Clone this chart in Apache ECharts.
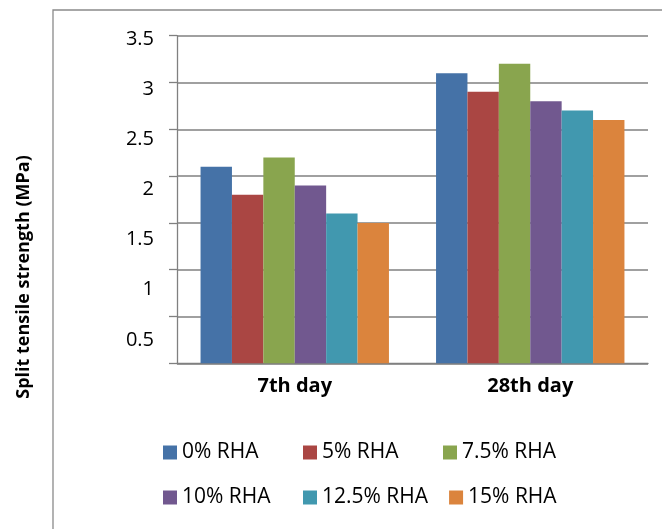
<!DOCTYPE html>
<html>
<head>
<meta charset="utf-8">
<script src="https://cdn.jsdelivr.net/npm/echarts@6/dist/echarts.min.js"></script>
<style>
html,body{margin:0;padding:0;background:#fff;}
#chart{width:662px;height:529px;}
</style>
</head>
<body>
<div id="chart"></div>
<script>
const categories = ['7th day', '28th day'];
const seriesNames = ['0% RHA', '5% RHA', '7.5% RHA', '10% RHA', '12.5% RHA', '15% RHA'];
const rha0 = [2.1, 3.1];
const rha5 = [1.8, 2.9];
const rha75 = [2.2, 3.2];
const rha10 = [1.9, 2.8];
const rha125 = [1.6, 2.7];
const rha15 = [1.5, 2.6];
const seriesValues = [rha0, rha5, rha75, rha10, rha125, rha15];
const colors = ['#4572A7', '#AA4643', '#89A54E', '#71588F', '#4198AF', '#DB843D'];
const yTicks = [0, 0.5, 1, 1.5, 2, 2.5, 3, 3.5];
const yTitle = 'Split tensile strength (MPa)';

const FONT = '"Open Sans", "Noto Sans", sans-serif';
const chart = echarts.init(document.getElementById('chart'), null, {renderer: 'canvas'});

const legendCommon = {
  itemWidth: 14, itemHeight: 14, itemGap: 21, icon: 'rect', padding: 0,
  textStyle: {fontFamily: FONT, fontSize: 21, color: '#000', width: 100, lineHeight: 21}
};

chart.setOption({
  animation: false,
  color: colors,
  graphic: [
    {type: 'rect', shape: {x: 53, y: 10, width: 700, height: 600},
     style: {fill: 'none', stroke: '#8a8a8a', lineWidth: 1.3}, silent: true, z: -1},
    {type: 'text', x: 24, y: 277, rotation: Math.PI / 2,
     style: {text: yTitle, fontFamily: FONT, fontSize: 18, fontWeight: 'bold', fill: '#000',
             textAlign: 'center', textVerticalAlign: 'middle'}}
  ],
  legend: [
    Object.assign({data: seriesNames.slice(0, 3), left: 163, top: 442}, legendCommon),
    Object.assign({data: seriesNames.slice(3, 6), left: 163, top: 487}, legendCommon)
  ],
  grid: [
    {left: 177, top: 35.7, right: 14, bottom: 529 - 363.3, containLabel: false},
    {left: 177, top: 39, right: 14, height: 351, containLabel: false}
  ],
  xAxis: [
    {type: 'category', data: categories, gridIndex: 0,
     axisLine: {show: true, lineStyle: {color: '#808080', width: 1.3}},
     axisTick: {show: false},
     axisLabel: {fontFamily: FONT, fontSize: 20, fontWeight: 'bold', color: '#000', margin: 13}},
    {type: 'value', gridIndex: 1, show: false, min: 0, max: 1}
  ],
  yAxis: [
    {type: 'value', gridIndex: 0, min: yTicks[0], max: yTicks[yTicks.length - 1], interval: 0.5,
     axisLine: {show: true, lineStyle: {color: '#808080', width: 1.3}},
     axisTick: {show: true, inside: false, length: 8, lineStyle: {color: '#808080', width: 1.3}},
     axisLabel: {show: false},
     splitLine: {show: true, lineStyle: {color: '#808080', width: 1.5}}},
    {type: 'value', gridIndex: 1, min: yTicks[0], max: yTicks[yTicks.length - 1], interval: 0.5,
     axisLine: {show: false}, axisTick: {show: false}, splitLine: {show: false},
     axisLabel: {show: true, margin: 23, fontFamily: FONT, fontSize: 20, color: '#000',
       formatter: v => (v === 0 ? '' : String(v))}}
  ],
  series: seriesNames.map((name, i) => ({
    name: name, type: 'bar', xAxisIndex: 0, yAxisIndex: 0,
    data: seriesValues[i], barGap: '0%', barCategoryGap: '20%',
    itemStyle: {color: colors[i]}
  }))
});
</script>
</body>
</html>
